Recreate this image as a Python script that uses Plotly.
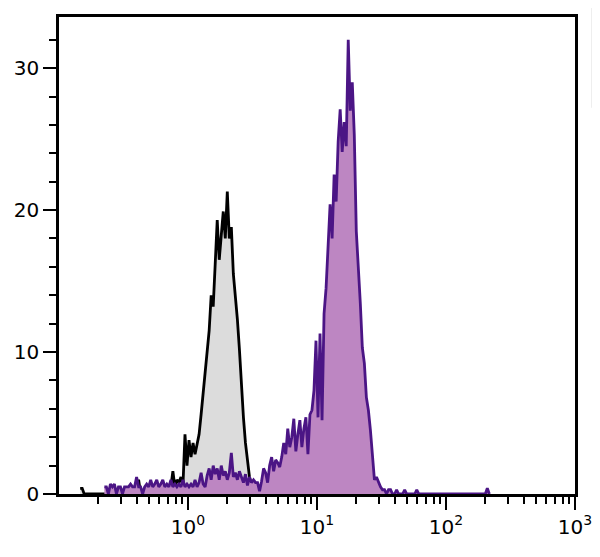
import plotly.graph_objects as go

# Histogram channel grid: 256 channels spanning 4 decades (10^-1 .. 10^3)
n_channels = 256
log_min, log_max = -1.0, 3.0

# Control (gray) histogram counts, starting at channel 10
gray_start = 10
gray_counts = [
    0.4, 0.4, 0, 0, 0, 0, 0, 0, 0, 0,
    0, 0, 0, 0, 0, 0, 0, 0, 0, 0,
    0.4, 0, 0, 0, 0, 0, 0, 0, 0, 1.0,
    0, 0, 0, 0, 0.5, 0.5, 0.5, 0, 0.5, 0.5,
    0.5, 0, 0, 0, 0, 0.5, 1.6, 0.5, 1.0, 0.8,
    1.2, 0.6, 4.2, 2.0, 3.8, 2.6, 3.6, 2.8, 3.4, 4.2,
    5.6, 7.0, 8.9, 10.2, 11.5, 14.0, 13.2, 16.2, 19.3, 16.5,
    18.2, 19.9, 18.0, 21.3, 18.0, 18.8, 15.5, 14.0, 12.3, 10.2,
    7.6, 5.4, 3.6, 2.4, 1.2, 0.6, 0,
]

# Stained (purple) histogram counts, starting at channel 22
purple_start = 22
purple_counts = [
    0.5, 0.5, 0, 0.7, 0.5, 0.7, 0, 0.5,
    0.5, 0, 0.5, 0.5, 0.5, 0.7, 0.5, 0.5, 1.2, 0.5,
    0.5, 0, 0.5, 0.7, 0.5, 1.0, 0.5, 0.7, 1.0, 0.5,
    0.7, 1.0, 0.5, 0.7, 0.5, 1.0, 0.5, 0.7, 0.5, 0.7,
    0.5, 1.0, 0.5, 0.7, 0.5, 0.7, 0.5, 1.0, 0.5, 0.8,
    1.5, 0.7, 0.5, 1.3, 1.8, 1.0, 2.0, 1.4, 1.8, 1.0,
    2.0, 1.3, 1.6, 1.0, 1.5, 2.9, 1.2, 1.5, 1.0, 1.6,
    1.2, 0.8, 1.4, 0.6, 1.2, 0.8, 1.0, 0.8, 0.8, 0.2,
    0.9, 1.8, 1.5, 0.8, 2.0, 2.6, 1.6, 2.4, 2.2, 1.9,
    2.6, 3.6, 2.8, 4.6, 3.3, 4.0, 5.3, 3.0, 4.2, 5.2,
    3.3, 4.6, 5.4, 2.8, 5.6, 5.9, 7.3, 10.8, 5.4, 11.3,
    5.2, 12.7, 14.5, 17.3, 20.4, 18.0, 22.5, 20.6, 24.8, 27.1,
    24.1, 26.2, 24.5, 32.0, 27.0, 29.0, 25.3, 18.5, 16.2, 13.4,
    10.3, 9.2, 6.8, 5.9, 4.5, 2.9, 1.0, 1.2, 0.8, 0.5,
    0.3, 0.3, 0, 0.3, 0.3, 0, 0, 0.3, 0, 0,
    0, 0.3, 0, 0, 0, 0, 0, 0.3, 0, 0,
    0, 0, 0, 0, 0, 0, 0, 0, 0, 0,
    0, 0, 0, 0, 0, 0, 0, 0, 0, 0,
    0, 0, 0, 0, 0, 0, 0, 0, 0, 0,
    0, 0, 0.4, 0,
]

x_tickvals = [1, 10, 100, 1000]
x_ticktext = ["10<sup>0</sup>", "10<sup>1</sup>", "10<sup>2</sup>", "10<sup>3</sup>"]
y_tickvals = [0, 10, 20, 30]
y_ticktext = ["0", "10", "20", "30"]


def channel_center(ch):
    return 10 ** (log_min + (log_max - log_min) * (ch + 0.5) / n_channels)


def line_xy(start, counts):
    xs = [channel_center(start + i) for i in range(len(counts))]
    return xs, list(counts)


gx, gy = line_xy(gray_start, gray_counts)
px, py = line_xy(purple_start, purple_counts)

fig = go.Figure()
fig.add_trace(go.Scatter(
    x=gx, y=gy, mode="lines", line=dict(shape="linear", color="#000000", width=2.8),
    fill="tozeroy", fillcolor="#dcdcdc", showlegend=False, hoverinfo="skip",
))
fig.add_trace(go.Scatter(
    x=px, y=py, mode="lines", line=dict(shape="linear", color="#4b1585", width=2.8),
    fill="tozeroy", fillcolor="#bd86c2", showlegend=False, hoverinfo="skip",
))

# minor tick values
x_minor = []
for dec in [0.1, 1, 10, 100]:
    for m in range(2, 10):
        x_minor.append(m * dec)
y_minor = [v for v in range(2, 34, 2) if v % 10 != 0]

tick_font = dict(family="DejaVu Sans", size=20, color="black")

# The page body adds an 8px margin, so the figure is 8px smaller and
# its margins are shifted to keep the plot area where the reference has it.
fig.update_layout(
    width=592, height=549,
    margin=dict(l=50, r=25, t=6, b=63),
    paper_bgcolor="white", plot_bgcolor="white",
    font=tick_font,
    xaxis=dict(
        type="log", range=[log_min, log_max],
        tickmode="array", tickvals=x_tickvals, ticktext=x_ticktext,
        ticks="outside", ticklen=13, tickwidth=2, tickcolor="black",
        minor=dict(tickmode="array", tickvals=x_minor, ticks="outside",
                   ticklen=7, tickwidth=2, tickcolor="black", showgrid=False),
        showline=True, linecolor="black", linewidth=2.5, mirror=True,
        showgrid=False, zeroline=False,
        tickfont=tick_font,
    ),
    yaxis=dict(
        range=[0, 33.6],
        tickmode="array", tickvals=y_tickvals, ticktext=y_ticktext,
        ticks="outside", ticklen=13, tickwidth=2, tickcolor="black",
        minor=dict(tickmode="array", tickvals=y_minor, ticks="outside",
                   ticklen=7, tickwidth=2, tickcolor="black", showgrid=False),
        showline=True, linecolor="black", linewidth=2.5, mirror=True,
        showgrid=False, zeroline=False,
        tickfont=tick_font,
    ),
    shapes=[dict(type="line", xref="paper", yref="paper",
                 x0=1.033, x1=1.033, y0=1.019, y1=0.81,
                 line=dict(color="#eeeeee", width=2))],
)

fig.write_html("out.html")
